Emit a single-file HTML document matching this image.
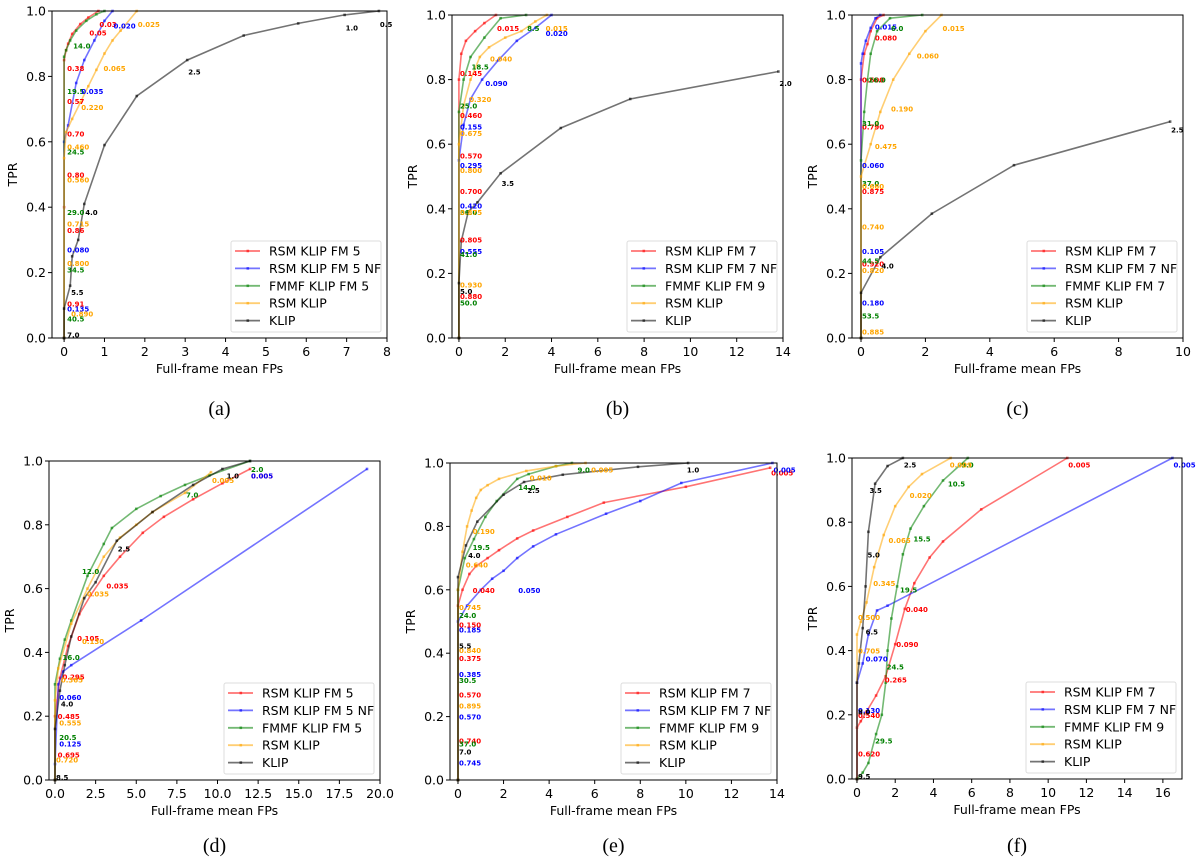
<!DOCTYPE html>
<html><head><meta charset="utf-8">
<style>
body{margin:0;background:#fff;}
svg{display:block;font-family:"DejaVu Sans","Liberation Sans",sans-serif;}
.tick{font-size:12.5px;fill:#000;}
.ann{font-size:7px;font-weight:bold;}
.cap{font-family:"Liberation Serif",serif;font-size:20px;}
</style></head>
<body>
<svg id="chart" width="1200" height="862"></svg>
<script>
// ---------- data ----------
const seriesColors = ["#ff0000","#0000ff","#008000","#ffa500","#000000"];
const annColors = ["#ff0000","#0000ff","#008000","#ffa500","#000000"];
const yTicks = [0,0.2,0.4,0.6,0.8,1.0];
const yTickLabels = ["0.0","0.2","0.4","0.6","0.8","1.0"];

// panel (a)
const aXTicks=[0,1,2,3,4,5,6,7,8];
const aXTickLabels=["0","1","2","3","4","5","6","7","8"];
const aLegend=["RSM KLIP FM 5","RSM KLIP FM 5 NF","FMMF KLIP FM 5","RSM KLIP","KLIP"];
const aRedX=[0,0,0,0.05,0.1,0.2,0.4,0.6,0.85];
const aRedY=[0,0.4,0.85,0.88,0.9,0.93,0.96,0.98,1.0];
const aBlueX=[0,0,0.1,0.3,0.5,0.75,1.0,1.2];
const aBlueY=[0,0.6,0.65,0.78,0.85,0.91,0.97,1.0];
const aGreenX=[0,0,0.05,0.15,0.3,0.55,0.8,1.0];
const aGreenY=[0,0.86,0.88,0.91,0.94,0.97,0.99,1.0];
const aOrangeX=[0,0,0.05,0.2,0.4,0.6,0.8,1.0,1.2,1.4,1.8];
const aOrangeY=[0,0.55,0.63,0.67,0.72,0.77,0.82,0.87,0.91,0.94,1.0];
const aBlackX=[0,0,0.15,0.2,0.35,0.5,1.0,1.8,3.05,4.45,5.8,6.95,7.8];
const aBlackY=[0,0.09,0.16,0.25,0.3,0.41,0.59,0.74,0.85,0.925,0.962,0.988,1.0];
const aAnnX=[0.85,0.6,0.05,0.05,0.05,0.05,0.05,0.05,0.2,0.05,1.2,0.4,0.05,0.05,0.05,0.05,0.15,0.05,1.8,0.95,0.4,0.05,0.05,0.05,0.05,0.05,3.05,6.95,7.8,0.5,0.15,0.05];
const aAnnY=[0.96,0.935,0.825,0.725,0.625,0.5,0.33,0.105,0.895,0.755,0.955,0.707,0.585,0.485,0.35,0.23,0.075,0.27,0.96,0.825,0.755,0.57,0.385,0.21,0.06,0.09,0.815,0.95,0.96,0.385,0.14,0.01];
const aAnnT=["0.03","0.05","0.38","0.57","0.70","0.80","0.86","0.91","14.0","19.5","0.020","0.220","0.460","0.560","0.715","0.800","0.890","0.080","0.025","0.065","0.035","24.5","29.0","34.5","40.5","0.135","2.5","1.0","0.5","4.0","5.5","7.0"];
const aAnnC=[0,0,0,0,0,0,0,0,2,2,1,3,3,3,3,3,3,1,3,3,1,2,2,2,2,1,4,4,4,4,4,4];

// panel (b)
const bXTicks=[0,2,4,6,8,10,12,14];
const bXTickLabels=["0","2","4","6","8","10","12","14"];
const bLegend=["RSM KLIP FM 7","RSM KLIP FM 7 NF","FMMF KLIP FM 9","RSM KLIP","KLIP"];
const bRedX=[0,0,0.1,0.3,0.7,1.1,1.6];
const bRedY=[0,0.8,0.88,0.92,0.95,0.975,1.0];
const bBlueX=[0,0,0.2,0.5,1.0,1.7,2.5,3.3,4.0];
const bBlueY=[0,0.55,0.66,0.74,0.8,0.86,0.92,0.96,1.0];
const bGreenX=[0,0,0.2,0.5,1.1,1.8,2.9];
const bGreenY=[0,0.7,0.8,0.87,0.93,0.99,1.0];
const bOrangeX=[0,0,0.2,0.5,0.9,1.3,2.0,2.7,3.3,3.8];
const bOrangeY=[0,0.6,0.72,0.8,0.87,0.9,0.93,0.95,0.98,1.0];
const bBlackX=[0,0,0.1,0.4,0.8,1.8,4.4,7.4,13.8];
const bBlackY=[0,0.17,0.3,0.39,0.42,0.51,0.65,0.74,0.825];
const bAnnX=[1.6,0,0,0,0,0,0,3.7,1.1,0,0,0,0,2.9,0.5,0,0,0,0,3.7,1.3,0.4,0,0,0,0,13.8,1.8,0];
const bAnnY=[0.96,0.82,0.69,0.565,0.455,0.305,0.13,0.945,0.79,0.655,0.535,0.41,0.27,0.96,0.84,0.72,0.39,0.26,0.11,0.96,0.865,0.74,0.635,0.52,0.39,0.165,0.79,0.48,0.145];
const bAnnT=["0.015","0.145","0.460","0.570","0.700","0.805","0.880","0.020","0.090","0.155","0.295","0.420","0.555","8.5","18.5","25.0","36.0","41.0","50.0","0.015","0.040","0.320","0.675","0.800","0.875","0.930","2.0","3.5","5.0"];
const bAnnC=[0,0,0,0,0,0,0,1,1,1,1,1,1,2,2,2,2,2,2,3,3,3,3,3,3,3,4,4,4];

// panel (c)
const cXTicks=[0,2,4,6,8,10];
const cXTickLabels=["0","2","4","6","8","10"];
const cLegend=["RSM KLIP FM 7","RSM KLIP FM 7 NF","FMMF KLIP FM 7","RSM KLIP","KLIP"];
const cRedX=[0,0,0.1,0.2,0.3,0.5,0.7];
const cRedY=[0,0.8,0.88,0.91,0.95,0.99,1.0];
const cBlueX=[0,0,0.05,0.15,0.3,0.45,0.6];
const cBlueY=[0,0.85,0.88,0.92,0.96,0.99,1.0];
const cGreenX=[0,0,0.1,0.2,0.3,0.5,0.9,1.9];
const cGreenY=[0,0.55,0.7,0.8,0.88,0.95,0.99,1.0];
const cOrangeX=[0,0,0.3,0.6,1.0,1.5,2.0,2.5];
const cOrangeY=[0,0.5,0.6,0.7,0.8,0.88,0.95,1.0];
const cBlackX=[0,0,0.6,2.2,4.75,9.6];
const cBlackY=[0,0.14,0.25,0.385,0.535,0.67];
const cAnnX=[0.4,0,0,0,0,0.4,0,0,0,0.9,0.2,0,0,0,0,2.5,1.7,0.9,0.4,0,0,0,0,9.6,0.6];
const cAnnY=[0.93,0.8,0.655,0.455,0.23,0.965,0.535,0.27,0.11,0.96,0.8,0.665,0.48,0.24,0.07,0.96,0.875,0.71,0.595,0.47,0.345,0.21,0.02,0.645,0.225];
const cAnnT=["0.080","0.600","0.790","0.875","0.920","0.015","0.060","0.105","0.180","6.0","26.0","31.0","37.0","44.5","53.5","0.015","0.060","0.190","0.475","0.660","0.740","0.820","0.885","2.5","4.0"];
const cAnnC=[0,0,0,0,0,1,1,1,1,2,2,2,2,2,2,3,3,3,3,3,3,3,3,4,4];

// panel (d)
const dXTicks=[0,2.5,5,7.5,10,12.5,15,17.5,20];
const dXTickLabels=["0.0","2.5","5.0","7.5","10.0","12.5","15.0","17.5","20.0"];
const dLegend=["RSM KLIP FM 5","RSM KLIP FM 5 NF","FMMF KLIP FM 5","RSM KLIP","KLIP"];
const dRedX=[0,0,0.3,0.8,1.5,2.2,3,4,5.4,6.7,8.5,10.3,12];
const dRedY=[0,0.2,0.32,0.42,0.52,0.58,0.64,0.7,0.775,0.825,0.88,0.93,0.975];
const dBlueX=[0,0,0.2,0.5,1.0,5.3,19.2];
const dBlueY=[0,0.05,0.3,0.34,0.36,0.5,0.975];
const dGreenX=[0,0,0.3,0.6,1,2,3,3.5,5,6.5,8,9.5,12];
const dGreenY=[0,0.3,0.38,0.44,0.5,0.64,0.74,0.79,0.85,0.89,0.925,0.955,1.0];
const dOrangeX=[0,0,0.2,1,2,3,4,5,6,8,9.6];
const dOrangeY=[0,0.25,0.35,0.49,0.6,0.7,0.76,0.8,0.84,0.9,0.965];
const dBlackX=[0,0,0.3,0.6,1,1.8,2.5,3.8,6,8.5,10.3,12];
const dBlackY=[0,0.16,0.28,0.36,0.45,0.57,0.62,0.75,0.84,0.925,0.975,1.0];
const dAnnX=[12,3.1,1.3,0.4,0.1,0.1,12,0.2,0.2,12,1.6,0.4,8,0.2,9.6,1.9,1.6,0.3,0.2,0,10.5,3.8,0.3,0];
const dAnnY=[0.955,0.61,0.445,0.325,0.2,0.08,0.955,0.26,0.115,0.975,0.655,0.385,0.895,0.135,0.94,0.585,0.435,0.315,0.18,0.065,0.955,0.725,0.24,0.01];
const dAnnT=["0.005","0.035","0.105","0.295","0.485","0.695","0.005","0.060","0.125","2.0","12.0","16.0","7.0","20.5","0.005","0.035","0.130","0.365","0.555","0.720","1.0","2.5","4.0","8.5"];
const dAnnC=[0,0,0,0,0,0,1,1,1,2,2,2,2,2,3,3,3,3,3,3,4,4,4,4];

// panel (e)
const eXTicks=[0,2,4,6,8,10,12,14];
const eXTickLabels=["0","2","4","6","8","10","12","14"];
const eLegend=["RSM KLIP FM 7","RSM KLIP FM 7 NF","FMMF KLIP FM 9","RSM KLIP","KLIP"];
const eRedX=[0,0,0.2,0.5,0.8,1.3,1.8,2.6,3.3,4.8,6.4,10,13.7];
const eRedY=[0,0.55,0.6,0.65,0.675,0.7,0.725,0.762,0.787,0.83,0.875,0.925,0.985];
const eBlueX=[0,0,0.4,1,1.5,2,2.6,3.3,4.3,6.5,8,9.8,13.8];
const eBlueY=[0,0.5,0.55,0.6,0.635,0.66,0.7,0.737,0.775,0.84,0.88,0.937,1.0];
const eGreenX=[0,0,0.3,0.7,1.2,1.7,2.6,3.1,4.3,5.0];
const eGreenY=[0,0.6,0.7,0.76,0.83,0.88,0.95,0.965,0.99,1.0];
const eOrangeX=[0,0,0.2,0.4,0.6,0.8,1.0,1.3,1.8,3,4.3,5.6];
const eOrangeY=[0,0.6,0.72,0.8,0.85,0.89,0.915,0.93,0.95,0.975,0.99,1.0];
const eBlackX=[0,0,0.35,0.85,2,2.9,4.6,7.9,10.1];
const eBlackY=[0,0.64,0.74,0.815,0.9,0.94,0.963,0.988,1.0];
const eAnnX=[13.7,0.6,0,0,0,0,13.8,2.6,0,0,0,0,5.2,2.6,0.6,0,0,0,5.8,3.1,0.6,0.3,0,0,0,10,3,0.4,0,0];
const eAnnY=[0.97,0.6,0.49,0.385,0.27,0.125,0.98,0.6,0.475,0.335,0.2,0.055,0.98,0.925,0.735,0.52,0.315,0.115,0.98,0.955,0.785,0.68,0.545,0.41,0.235,0.98,0.915,0.71,0.425,0.09];
const eAnnT=["0.005","0.040","0.150","0.375","0.570","0.740","0.005","0.050","0.185","0.385","0.570","0.745","9.0","14.0","19.5","24.0","30.5","37.0","0.005","0.010","0.190","0.640","0.745","0.840","0.895","1.0","2.5","4.0","5.5","7.0"];
const eAnnC=[0,0,0,0,0,0,1,1,1,1,1,1,2,2,2,2,2,2,3,3,3,3,3,3,3,4,4,4,4,4];

// panel (f)
const fXTicks=[0,2,4,6,8,10,12,14,16];
const fXTickLabels=["0","2","4","6","8","10","12","14","16"];
const fLegend=["RSM KLIP FM 7","RSM KLIP FM 7 NF","FMMF KLIP FM 9","RSM KLIP","KLIP"];
const fRedX=[0,0,0.2,0.5,1,1.5,2,2.5,3,3.8,4.5,6.5,11];
const fRedY=[0,0.16,0.18,0.21,0.26,0.32,0.42,0.53,0.61,0.69,0.74,0.84,1.0];
const fBlueX=[0,0,0.3,0.6,1.05,1.6,16.5];
const fBlueY=[0,0.3,0.36,0.45,0.525,0.54,1.0];
const fGreenX=[0,0.3,0.6,1,1.3,1.5,1.6,1.8,2.1,2.4,2.8,3.5,4.5,5.8];
const fGreenY=[0,0.02,0.05,0.14,0.2,0.3,0.4,0.5,0.6,0.7,0.78,0.85,0.93,1.0];
const fOrangeX=[0,0,0.2,0.5,0.9,1.4,2,2.7,3.4,4.9];
const fOrangeY=[0,0.45,0.49,0.55,0.66,0.76,0.85,0.91,0.95,1.0];
const fBlackX=[0,0,0.1,0.3,0.45,0.6,0.95,1.6,2.4];
const fBlackY=[0,0.3,0.36,0.47,0.6,0.77,0.92,0.975,1.0];
const fAnnX=[11,2.5,2,1.4,0,0,16.5,0.4,0,5.4,4.7,2.9,2.2,1.5,0.9,4.8,2.7,1.6,0.8,0,0,2.4,0.6,0.5,0.4,0,0];
const fAnnY=[0.98,0.53,0.42,0.31,0.2,0.08,0.98,0.375,0.215,0.98,0.92,0.75,0.59,0.35,0.12,0.98,0.885,0.745,0.61,0.505,0.4,0.98,0.9,0.7,0.46,0.21,0.01];
const fAnnT=["0.005","0.040","0.090","0.265","0.540","0.620","0.005","0.070","0.130","9.0","10.5","15.5","19.5","24.5","29.5","0.009","0.020","0.065","0.345","0.500","0.705","2.5","3.5","5.0","6.5","8.0","9.5"];
const fAnnC=[0,0,0,0,0,0,1,1,1,2,2,2,2,2,2,3,3,3,3,3,3,4,4,4,4,4,4];

// ---------- drawing ----------
const NS="http://www.w3.org/2000/svg";
const svg=document.getElementById('chart');
function mk(tag,attrs,parent){const e=document.createElementNS(NS,tag);for(const k in attrs)e.setAttribute(k,attrs[k]);(parent||svg).appendChild(e);return e;}

const panels=[
 {id:'a',L:52,R:387,T:11,B:338,xmin:-0.3,xmax:8,cap:'(a)',capY:415,xt:aXTicks,xl:aXTickLabels,leg:aLegend,
  s:[[aRedX,aRedY],[aBlueX,aBlueY],[aGreenX,aGreenY],[aOrangeX,aOrangeY],[aBlackX,aBlackY]],an:[aAnnX,aAnnY,aAnnT,aAnnC]},
 {id:'b',L:452,R:783,T:15,B:338,xmin:-0.3,xmax:14,cap:'(b)',capY:415,xt:bXTicks,xl:bXTickLabels,leg:bLegend,
  s:[[bRedX,bRedY],[bBlueX,bBlueY],[bGreenX,bGreenY],[bOrangeX,bOrangeY],[bBlackX,bBlackY]],an:[bAnnX,bAnnY,bAnnT,bAnnC]},
 {id:'c',L:852,R:1183,T:15,B:338,xmin:-0.28,xmax:10,cap:'(c)',capY:415,xt:cXTicks,xl:cXTickLabels,leg:cLegend,
  s:[[cRedX,cRedY],[cBlueX,cBlueY],[cGreenX,cGreenY],[cOrangeX,cOrangeY],[cBlackX,cBlackY]],an:[cAnnX,cAnnY,cAnnT,cAnnC]},
 {id:'d',L:49,R:380,T:461,B:780,xmin:-0.37,xmax:20,cap:'(d)',capY:852,xt:dXTicks,xl:dXTickLabels,leg:dLegend,
  s:[[dRedX,dRedY],[dBlueX,dBlueY],[dGreenX,dGreenY],[dOrangeX,dOrangeY],[dBlackX,dBlackY]],an:[dAnnX,dAnnY,dAnnT,dAnnC]},
 {id:'e',L:450,R:777,T:463,B:780,xmin:-0.35,xmax:14,cap:'(e)',capY:852,xt:eXTicks,xl:eXTickLabels,leg:eLegend,
  s:[[eRedX,eRedY],[eBlueX,eBlueY],[eGreenX,eGreenY],[eOrangeX,eOrangeY],[eBlackX,eBlackY]],an:[eAnnX,eAnnY,eAnnT,eAnnC]},
 {id:'f',L:852,R:1182,T:458,B:779,xmin:-0.26,xmax:17,cap:'(f)',capY:852,xt:fXTicks,xl:fXTickLabels,leg:fLegend,
  s:[[fRedX,fRedY],[fBlueX,fBlueY],[fGreenX,fGreenY],[fOrangeX,fOrangeY],[fBlackX,fBlackY]],an:[fAnnX,fAnnY,fAnnT,fAnnC]}
];
const sNames=['rsm-klip-fm','rsm-klip-fm-nf','fmmf-klip','rsm-klip','klip'];

panels.forEach(p=>{
  const g=mk('g',{});
  
  
  const xs=v=>p.L+(v-p.xmin)/(p.xmax-p.xmin)*(p.R-p.L);
  const ys=v=>p.B-v*(p.B-p.T);
  p.s.forEach((sr,si)=>{
    const pts=sr[0].map((x,i)=>xs(x).toFixed(1)+','+ys(sr[1][i]).toFixed(1)).join(' ');
    const pl=mk('polyline',{points:pts,fill:'none',stroke:seriesColors[si],'stroke-opacity':0.55,'stroke-width':1.6},g);
    
    
    sr[0].forEach((x,i)=>{
      const m=mk('rect',{x:xs(x)-1.3,y:ys(sr[1][i])-1.3,width:2.6,height:2.6,fill:seriesColors[si],'fill-opacity':0.6},g);
      
      
    });
  });
  const [ax,ay,at,ac]=p.an;
  ax.forEach((x,i)=>{
    if(!at[i])return;
    const t=mk('text',{x:xs(x)+1,y:ys(ay[i])+3,class:'ann',fill:annColors[ac[i]]},g);
    t.textContent=at[i];
    
    
  });
  const fr=mk('rect',{x:p.L,y:p.T,width:p.R-p.L,height:p.B-p.T,fill:'none',stroke:'#000','stroke-width':1},g);
  
  
  yTicks.forEach((v,i)=>{
    mk('line',{x1:p.L-4,x2:p.L,y1:ys(v),y2:ys(v),stroke:'#000'},g);
    const t=mk('text',{x:p.L-6,y:ys(v)+4.5,'text-anchor':'end',class:'tick'},g);
    t.textContent=yTickLabels[i];
    
    
  });
  p.xt.forEach((v,i)=>{
    mk('line',{x1:xs(v),x2:xs(v),y1:p.B,y2:p.B+4,stroke:'#000'},g);
    const t=mk('text',{x:xs(v),y:p.B+18,'text-anchor':'middle',class:'tick'},g);
    t.textContent=p.xl[i];
    
    
  });
  const xt=mk('text',{x:(p.L+p.R)/2,y:p.B+35,'text-anchor':'middle',class:'tick'},g);
  xt.textContent='Full-frame mean FPs';
  
  
  const yc=(p.T+p.B)/2, yx=p.L-35;
  const yt=mk('text',{x:yx,y:yc,'text-anchor':'middle',class:'tick',transform:`rotate(-90 ${yx} ${yc})`},g);
  yt.textContent='TPR';
  
  
  const cp=mk('text',{x:(p.L+p.R)/2,y:p.capY,'text-anchor':'middle',class:'cap'},g);
  cp.textContent=p.cap;
  
  
  const lw=150,lh=91,lx=p.R-6-lw,ly=p.B-6-lh;
  const lg=mk('g',{},g);
  
  
  mk('rect',{x:lx,y:ly,width:lw,height:lh,fill:'#fff','fill-opacity':0.8,stroke:'#ddd',rx:2},lg);
  p.leg.forEach((name,i)=>{
    const yy=ly+10+i*17.4;
    mk('line',{x1:lx+4,x2:lx+29,y1:yy,y2:yy,stroke:seriesColors[i],'stroke-opacity':0.55,'stroke-width':1.8},lg);
    mk('rect',{x:lx+15.5,y:yy-1.3,width:2.6,height:2.6,fill:seriesColors[i],'fill-opacity':0.6},lg);
    const t=mk('text',{x:lx+38,y:yy+4.5,class:'tick'},lg);
    t.textContent=name;
    
    
  });
});
</script>
</body></html>
